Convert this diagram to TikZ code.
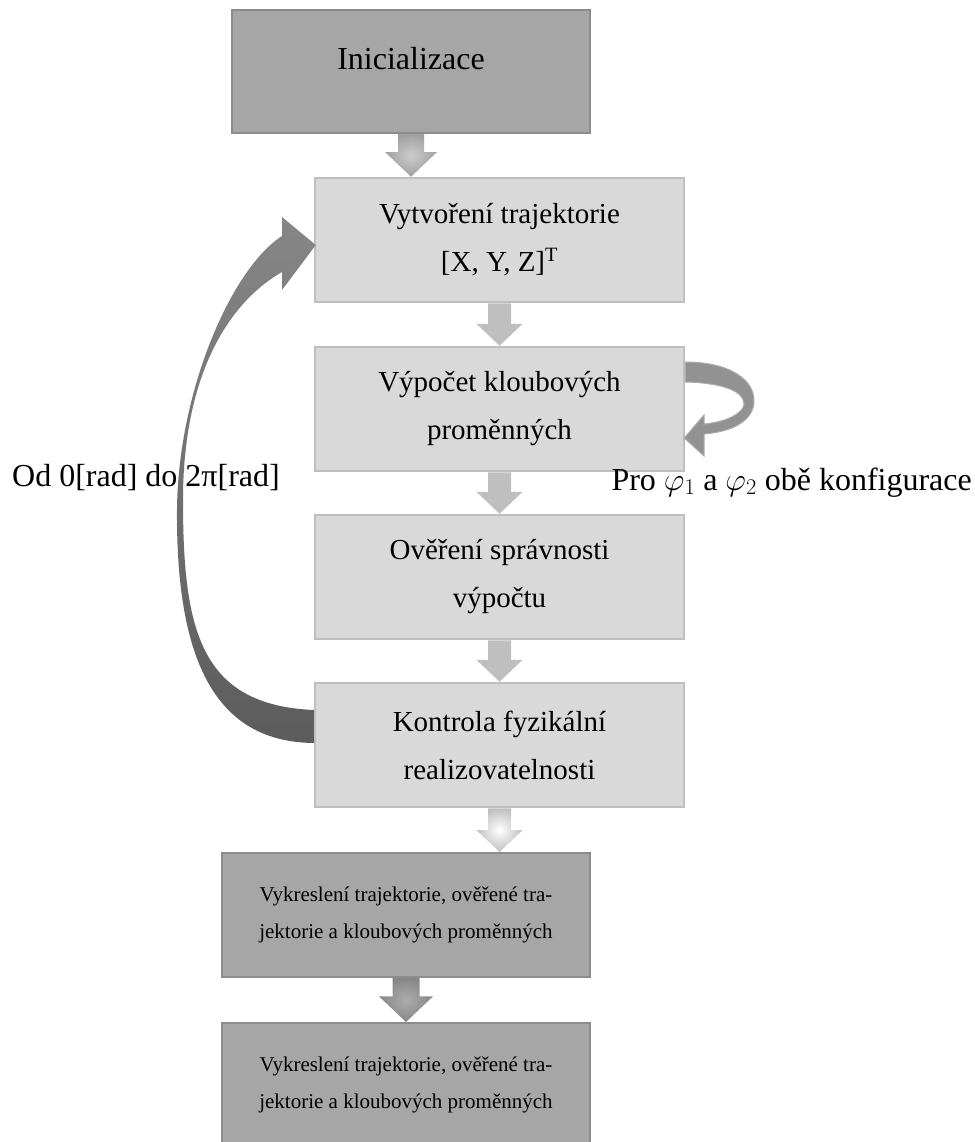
\RequirePackage{fix-cm}
\documentclass[tikz,border=0pt]{standalone}
\usepackage{fontspec}
\setmainfont{Liberation Serif}
\usetikzlibrary{calc}

\definecolor{darkfill}{HTML}{A6A6A6}
\definecolor{darkrim}{HTML}{8C8C8C}
\definecolor{lightfill}{HTML}{D9D9D9}
\definecolor{lightrim}{HTML}{BFBFBF}
\definecolor{arrowlight}{HTML}{BFBFBF}
\definecolor{loopgray}{HTML}{868686}
\definecolor{loopdark}{HTML}{5C5C5C}

% block arrow: style, from, to, shaft half width
\newcommand{\blockarrow}[4]{%
\path[#1] let \p1=(#2), \p2=(#3) in
  (\x1-#4pt,\y1) -- (\x1+#4pt,\y1) -- (\x1+#4pt,\y2+1.9*#4pt)
  -- (\x1+2*#4pt,\y2+1.9*#4pt) -- (\x1,\y2) -- (\x1-2*#4pt,\y2+1.9*#4pt)
  -- (\x1-#4pt,\y2+1.9*#4pt) -- cycle;}

\tikzset{
  stage/.style={rectangle, draw=lightrim, fill=lightfill, line width=2.5pt,
    minimum width=369pt, minimum height=124pt, align=center,
    font=\fontsize{29}{48}\selectfont},
  result/.style={rectangle, draw=darkrim, fill=darkfill, line width=2pt,
    minimum width=368pt, minimum height=124pt, align=center,
    font=\fontsize{21}{37}\selectfont},
  note/.style={font=\fontsize{32}{38}\selectfont, inner sep=0pt}
}

\begin{document}
\begin{tikzpicture}[x=1pt,y=-1pt]
\useasboundingbox (0,0) rectangle (974,1142);

% boxes
\node[result, minimum width=358pt, minimum height=123pt, font=\fontsize{32}{38}\selectfont,
  text height=21pt, text depth=25pt] (init) at (411,71.5) {Inicializace};
\node[stage] (traj) at (499.5,240) {Vytvoření trajektorie\\ {[X, Y, Z]}\textsuperscript{T}};
\node[stage] (joint) at (499.5,409) {Výpočet kloubových\\ proměnných};
\node[stage] (verify) at (499.5,577) {Ověření správnosti\\ výpočtu};
\node[stage] (phys) at (499.5,745) {Kontrola fyzikální\\ realizovatelnosti};
\node[result] (plotA) at (406,915) {Vykreslení trajektorie, ověřené tra-\\ jektorie a kloubových proměnných};
\node[result] (plotB) at (406,1085) {Vykreslení trajektorie, ověřené tra-\\ jektorie a kloubových proměnných};

% arrows between boxes
\blockarrow{shade, inner color=gray!40, outer color=gray!75}{init.south}{init.south |- traj.north}{13}
\blockarrow{fill=arrowlight}{traj.south}{joint.north}{11.5}
\blockarrow{fill=arrowlight}{joint.south}{verify.north}{11.5}
\blockarrow{fill=arrowlight}{verify.south}{phys.north}{11.5}
\blockarrow{shade, inner color=white, outer color=gray!50}{phys.south}{phys.south |- plotA.north}{11.5}
\blockarrow{shade, inner color=gray!65, outer color=gray!95}{plotA.south}{plotB.north}{13.5}

% loop back arrow
\shade[top color=loopgray, bottom color=loopdark]
  ($(phys.west)+(0,-2)$) .. controls (215,742) and (176,660) .. (177,510)
  .. controls (178,390) and (232,268) .. (282,236)
  -- (282,217) -- ($(traj.west)+(2,5)$) -- (282,290) -- (282,272)
  .. controls (225,305) and (183,380) .. (183,500)
  .. controls (183,630) and (200,705) .. ($(phys.west)+(0,-35)$) -- cycle;
\node[note, anchor=base west] (range) at (12,486) {Od 0[rad] do 2π[rad]};

% self loop arrow
\fill[loopgray!90, draw=gray!65, line width=1pt]
  ($(joint.east)+(0,-47)$) .. controls (730,362) and (755,380) .. (754,402)
  .. controls (753,422) and (730,432) .. (704,434)
  -- (704,456) -- ($(joint.east)+(-1,29)$) -- (704,415) -- (704,424)
  .. controls (728,422) and (744,412) .. (744,404)
  .. controls (744,392) and (725,383) .. ($(joint.east)+(0,-27)$) -- cycle;
\node[note, anchor=base east] (config) at (972,490) {Pro $\varphi_1$ a $\varphi_2$ obě konfigurace};

\end{tikzpicture}
\end{document}
